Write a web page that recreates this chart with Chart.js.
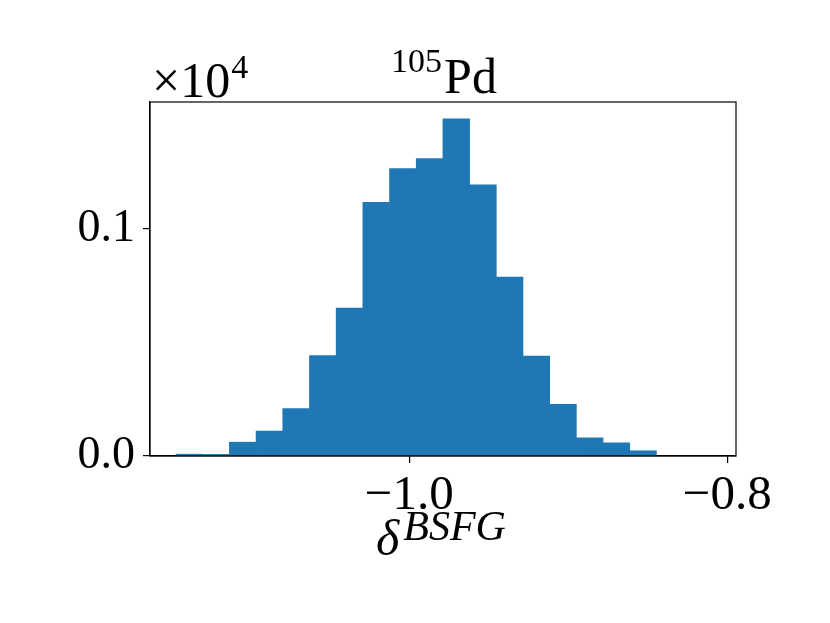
<!DOCTYPE html>
<html>
<head>
<meta charset="utf-8">
<script src="https://cdn.jsdelivr.net/npm/chart.js@4/dist/chart.umd.min.js"></script>
<style>
  html, body { margin: 0; padding: 0; background: #ffffff; }
  #wrap { width: 830px; height: 623px; }
</style>
</head>
<body>
<div id="wrap"><canvas id="c" width="830" height="623"></canvas></div>
<script>
// ---- data ----
const binEdges = [-1.14668, -1.12989, -1.11311, -1.09632, -1.07953, -1.06274, -1.04596,
  -1.02917, -1.01238, -0.99560, -0.97881, -0.96202, -0.94524, -0.92845, -0.91166,
  -0.89487, -0.87809, -0.86130, -0.84451];
const counts = [8, 7, 61, 110, 209, 443, 652, 1118, 1267, 1311, 1486, 1195, 788, 440, 228, 80, 58, 23];
const xTickValues = [-1.0, -0.8];
const xTickLabels = ['\u22121.0', '\u22120.8'];
const yTickValues = [0, 1000];
const yTickLabels = ['0.0', '0.1'];
const titleSup = '105';
const titleMain = 'Pd';
const xLabelMain = '\u03B4';
const xLabelSup = 'BSFG';
const offsetMain = '\u00D710';
const offsetSup = '4';

const FONT = '"Liberation Serif", "DejaVu Serif", serif';
const barData = counts.map((v, i) => ({ x: (binEdges[i] + binEdges[i + 1]) / 2, y: v }));

const textPlugin = {
  id: 'texts',
  afterDraw(chart) {
    const ctx = chart.ctx;
    const a = chart.chartArea;
    ctx.save();
    // frame (top/right spines)
    ctx.strokeStyle = '#000';
    ctx.lineWidth = 1.2;
    ctx.strokeRect(a.left, a.top, a.right - a.left, a.bottom - a.top);
    ctx.fillStyle = '#000';
    ctx.textBaseline = 'alphabetic';
    ctx.textAlign = 'left';
    // title
    const cx = (a.left + a.right) / 2;
    ctx.font = '34px ' + FONT;
    const wSup = ctx.measureText(titleSup).width;
    ctx.font = '50px ' + FONT;
    const wMain = ctx.measureText(titleMain).width;
    let x0 = cx - (wSup + wMain) / 2;
    ctx.font = '34px ' + FONT;
    ctx.fillText(titleSup, x0, 72);
    ctx.font = '50px ' + FONT;
    ctx.fillText(titleMain, x0 + wSup + 2, 93);
    // offset text
    ctx.font = '50px ' + FONT;
    ctx.fillText(offsetMain, a.left + 2, 97);
    const wOff = ctx.measureText(offsetMain).width;
    ctx.font = '34px ' + FONT;
    ctx.fillText(offsetSup, a.left + 2 + wOff + 1, 78);
    // x label
    ctx.font = 'italic 50px ' + FONT;
    const wd = ctx.measureText(xLabelMain).width;
    ctx.font = 'italic 42px ' + FONT;
    const wb = ctx.measureText(xLabelSup).width;
    const lx = cx - (wd + wb) / 2 - 4;
    ctx.font = 'italic 50px ' + FONT;
    ctx.fillText(xLabelMain, lx, 555);
    ctx.font = 'italic 42px ' + FONT;
    ctx.fillText(xLabelSup, lx + wd + 4, 540);
    ctx.restore();
  }
};

new Chart(document.getElementById('c'), {
  type: 'bar',
  data: {
    datasets: [{
      data: barData,
      backgroundColor: '#1f77b4',
      borderWidth: 0,
      barPercentage: 1.0,
      categoryPercentage: 1.0
    }]
  },
  options: {
    responsive: false,
    animation: false,
    layout: { padding: { top: 102, right: 94, left: 0, bottom: 0 } },
    plugins: { legend: { display: false }, tooltip: { enabled: false }, title: { display: false } },
    scales: {
      x: {
        type: 'linear',
        offset: false,
        min: -1.16305,
        max: -0.79446,
        afterBuildTicks: (s) => { s.ticks = xTickValues.map(v => ({ value: v })); },
        afterFit: (s) => { s.height = 623 - 456; },
        ticks: {
          autoSkip: false,
          maxRotation: 0,
          padding: 4,
          color: '#000',
          font: { family: FONT, size: 49 },
          callback: (v) => { const i = xTickValues.indexOf(v); return i >= 0 ? xTickLabels[i] : ''; }
        },
        grid: { offset: false, drawOnChartArea: false, drawTicks: true, tickLength: 7, tickColor: '#000', lineWidth: 1.2 },
        border: { display: true, color: '#000', width: 1.2 }
      },
      y: {
        min: 0,
        max: 1560,
        afterBuildTicks: (s) => { s.ticks = yTickValues.map(v => ({ value: v })); },
        afterFit: (s) => { s.width = 150; },
        ticks: {
          autoSkip: false,
          padding: 8,
          color: '#000',
          font: { family: FONT, size: 46 },
          callback: (v) => { const i = yTickValues.indexOf(v); return i >= 0 ? yTickLabels[i] : ''; }
        },
        grid: { offset: false, drawOnChartArea: false, drawTicks: true, tickLength: 7, tickColor: '#000', lineWidth: 1.2 },
        border: { display: true, color: '#000', width: 1.2 }
      }
    }
  },
  plugins: [textPlugin]
});
</script>
</body>
</html>
